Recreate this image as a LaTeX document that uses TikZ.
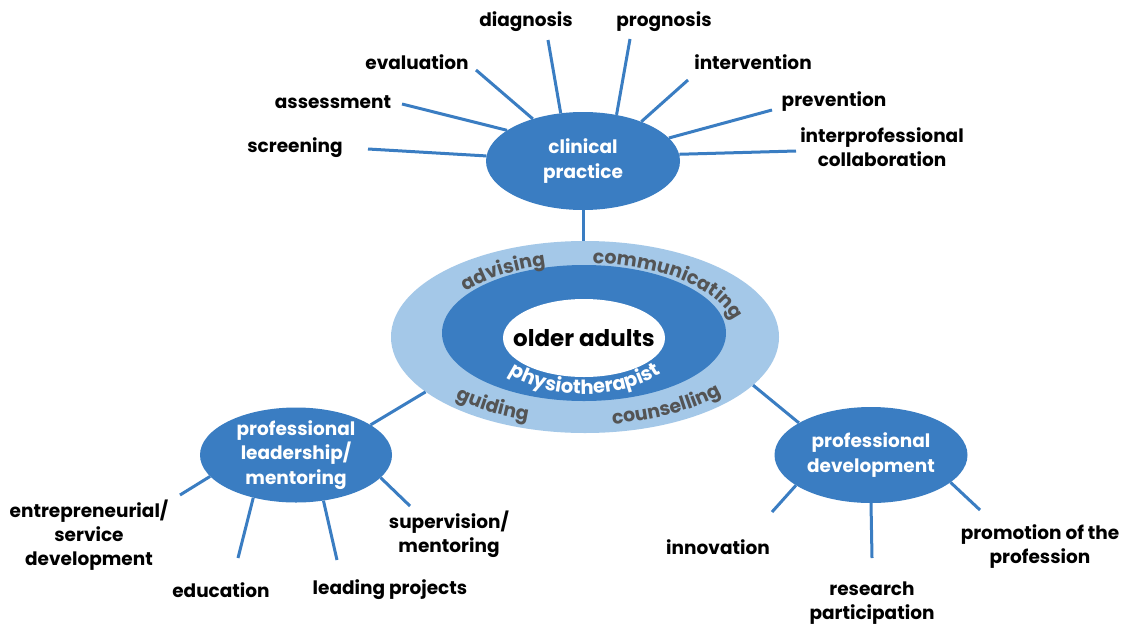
\documentclass[tikz,border=0pt]{standalone}
\usepackage{fontspec}
\setmainfont{Poppins}
\usetikzlibrary{shapes.geometric,decorations.text,calc}
\definecolor{cblue}{HTML}{3A7DC2}
\definecolor{lblue}{HTML}{A4C8E8}
\definecolor{rgray}{HTML}{545454}
\newcommand\lblfont{\fontsize{18.5}{24}\selectfont\bfseries}
\newcommand\hubfont{\fontsize{18.5}{24.5}\selectfont\bfseries}
\newcommand\ringfont{\fontsize{19}{19}\selectfont\bfseries\color{rgray}}
\newcommand\physfont{\fontsize{19.5}{19.5}\selectfont\bfseries\color{white}}
\begin{document}
\begin{tikzpicture}[x=1pt,y=1pt,
  hub/.style={ellipse, fill=cblue, inner sep=0pt, minimum width=#1},
  hubtext/.style={text=white, font=\hubfont, align=center},
  lbl/.style={text=black, font=\lblfont, align=center, inner sep=0pt},
  spoke/.style={draw=cblue, line width=3pt},
  ringlayer/.style={ellipse, inner sep=0pt}]
\useasboundingbox (0,0) rectangle (1131,-624);
\fill[white] (0,0) rectangle (1131,-624);

% central rings
\node[ringlayer, fill=lblue, minimum width=388, minimum height=192] (outer) at (585,-337) {};
\node[ringlayer, fill=cblue, minimum width=284, minimum height=136] (inner) at (584,-333) {};
\node[ringlayer, fill=white, minimum width=162, minimum height=78] (core) at (584,-338) {};
\node[font=\fontsize{23}{23}\selectfont\bfseries, text=black] (oa) at (core.center) {older adults};
\coordinate (rc) at (585,-336);

% curved ring texts
\path[decorate, decoration={text along path, text align=center, text={|\ringfont|advising}}]
  ([shift={(156:151 and 73)}]rc) arc[start angle=156, end angle=96, x radius=151, y radius=73];
\path[decorate, decoration={text along path, text align=center, text={|\ringfont|communicating}}]
  ([shift={(92:151 and 73)}]rc) arc[start angle=92, end angle=2, x radius=151, y radius=73];
\path[decorate, decoration={text along path, text align=center, text={|\ringfont|guiding}}]
  ([shift={(210:181 and 89)}]rc) arc[start angle=210, end angle=262, x radius=181, y radius=89];
\path[decorate, decoration={text along path, text align=center, text={|\ringfont|counselling}}]
  ([shift={(273:181 and 89)}]rc) arc[start angle=273, end angle=327, x radius=181, y radius=89];
\path[decorate, decoration={text along path, text align=center, text={|\physfont|physiotherapist}}]
  ([shift={(190:100 and 58)}]rc) arc[start angle=190, end angle=350, x radius=100, y radius=58];

% hubs
\node[hub=194, minimum height=98, label={[hubtext]center:clinical\\practice}] (clin) at (583,-161) {};
\node[hub=192, minimum height=95, label={[hubtext]center:professional\\leadership/\\mentoring}] (lead) at (296,-455) {};
\node[hub=193, minimum height=96, label={[hubtext]center:professional\\development}] (dev) at (871,-455) {};

% hub connectors
\draw[spoke] (clin.south) -- (clin.south |- outer.north);
\draw[spoke] (lead.22) -- (outer.199);
\draw[spoke] (dev.156) -- (outer.344);

% clinical practice labels
\node[lbl] (screening) at (295,-148) {screening};
\node[lbl] (assessment) at (333,-102) {assessment};
\node[lbl] (evaluation) at (417,-62) {evaluation};
\node[lbl] (diagnosis) at (526,-22) {diagnosis};
\node[lbl] (prognosis) at (664,-22) {prognosis};
\node[lbl] (intervention) at (753,-62) {intervention};
\node[lbl] (prevention) at (834,-102) {prevention};
\node[lbl] (interprof) at (882,-147) {interprofessional\\collaboration};

\coordinate (sS) at (368,-149);
\coordinate (sA) at (402,-104);
\coordinate (sE) at (476,-70);
\coordinate (sD) at (548,-40);
\coordinate (sP) at (630,-39);
\coordinate (sI) at (688,-80);
\coordinate (sV) at (772,-110);
\coordinate (sC) at (796,-151);
\draw[spoke] (clin.177.6) -- (sS);
\draw[spoke] (clin.158) -- (sA);
\draw[spoke] (clin.140) -- (sE);
\draw[spoke] (clin.115.6) -- (sD);
\draw[spoke] (clin.54.3) -- (sP);
\draw[spoke] (clin.34.4) -- (sI);
\draw[spoke] (clin.15.6) -- (sV);
\draw[spoke] (clin.4.1) -- (sC);

% leadership labels
\node[lbl] (entre) at (89,-535) {entrepreneurial/\\service\\development};
\node[lbl] (educ) at (221,-590) {education};
\node[lbl] (leadp) at (390,-590) {leading projects};
\node[lbl] (superv) at (449,-534) {supervision/\\mentoring};
\coordinate (lE) at (180,-495);
\coordinate (lD) at (238,-558);
\coordinate (lL) at (337,-560);
\coordinate (lS) at (410,-506);
\draw[spoke] (lead.194) -- (lE);
\draw[spoke] (lead.225.6) -- (lD);
\draw[spoke] (lead.301) -- (lL);
\draw[spoke] (lead.345) -- (lS);

% development labels
\node[lbl] (innov) at (718,-547) {innovation};
\node[lbl] (research) at (872,-603) {research\\participation};
\node[lbl] (promo) at (1040,-547) {promotion of the\\profession};
\coordinate (dI) at (772,-512);
\coordinate (dR) at (872,-558);
\coordinate (dP) at (980,-510);
\draw[spoke] (dev.202) -- (dI);
\draw[spoke] (dev.south) -- (dR);
\draw[spoke] (dev.341) -- (dP);
\end{tikzpicture}
\end{document}
